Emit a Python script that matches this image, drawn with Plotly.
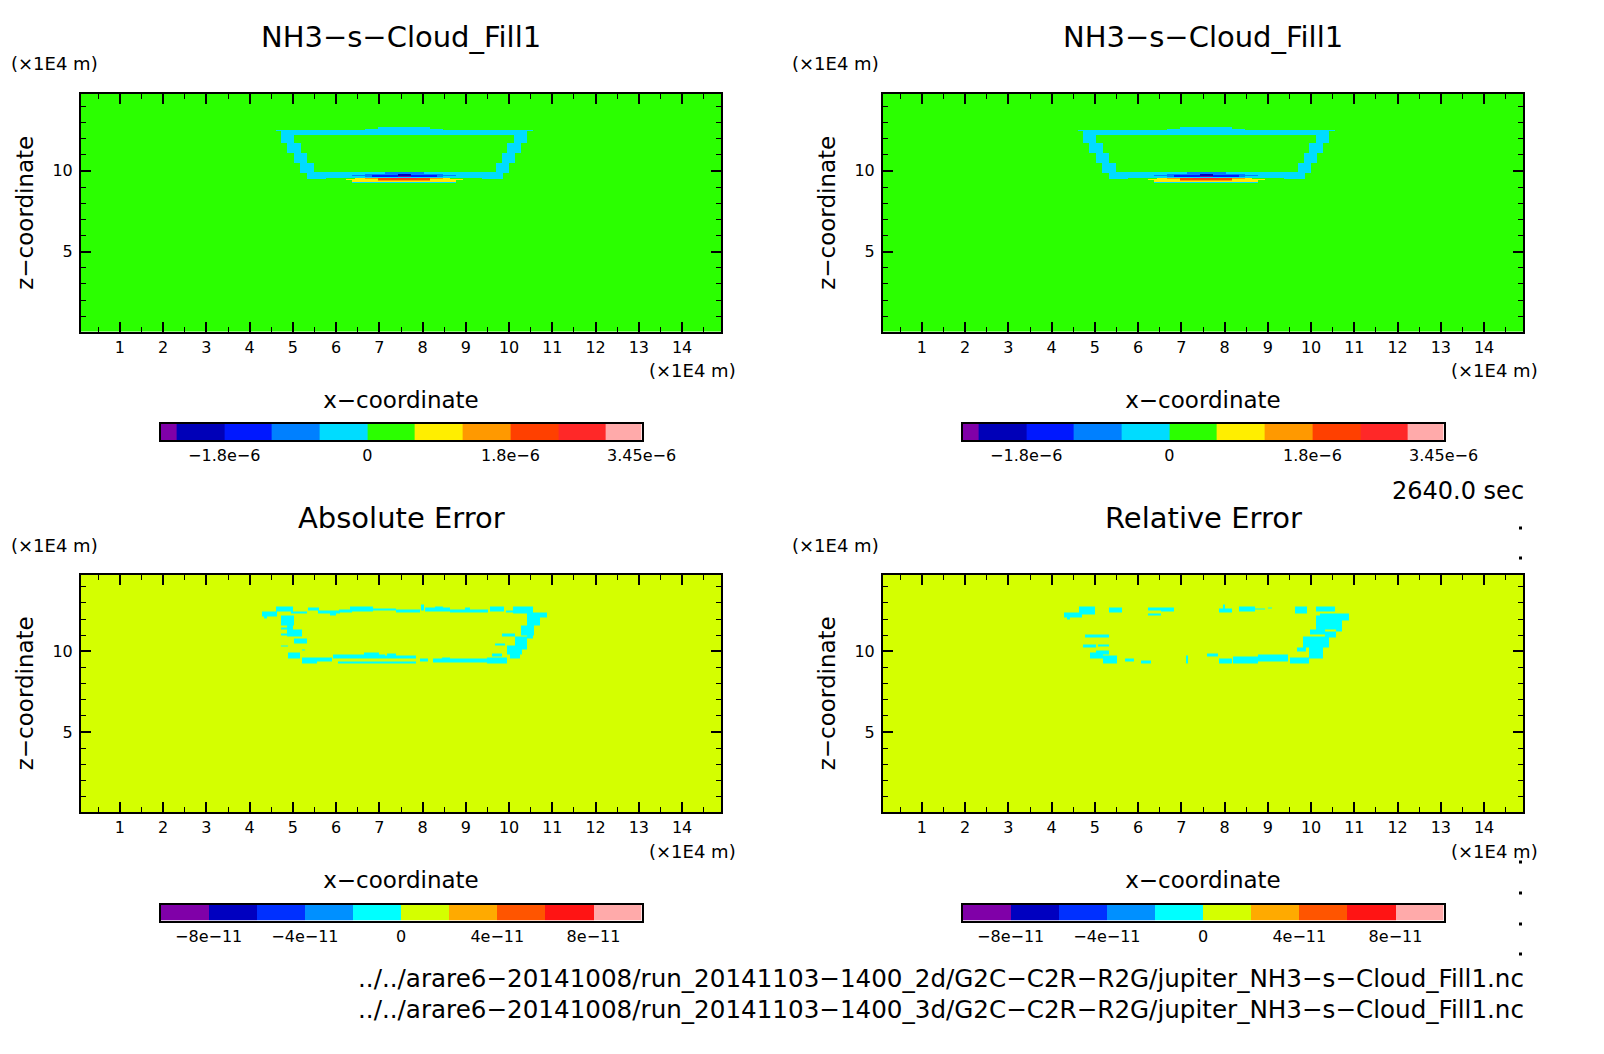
import numpy as np
import plotly.graph_objects as go

# colour levels and colours
levels_top = [-2.6e-6, -2.4e-6, -1.8e-6, -1.2e-6, -6e-7, 0, 6e-7, 1.2e-6, 1.8e-6, 2.4e-6, 3e-6, 3.45e-6]
colors_top = ["#8000a8", "#0000b8", "#0018ff", "#0080ff", "#00dcff", "#2bff00",
              "#ffee00", "#ff9900", "#ff4000", "#ff2828", "#ffaaaa"]
levels_err = [-1e-10, -8e-11, -6e-11, -4e-11, -2e-11, 0, 2e-11, 4e-11, 6e-11, 8e-11, 1e-10]
colors_err = ["#8000a8", "#0000c0", "#0030ff", "#0090ff", "#00ffff", "#d4ff00",
              "#ffaa00", "#ff5500", "#ff1414", "#ffaaaa"]
ticks_top = [-1.8e-6, 0, 1.8e-6, 3.45e-6]
ticks_top_text = ["−1.8e−6", "0", "1.8e−6", "3.45e−6"]
ticks_err = [-8e-11, -4e-11, 0, 4e-11, 8e-11]
ticks_err_text = ["−8e−11", "−4e−11", "0", "4e−11", "8e−11"]

x_range = [0.10, 14.90]
y_range = [0.05, 14.76]

# field patches: x0, x1, y0, y1 in units of 1E4 m
cloud_ring = [
    (4.58, 10.49, 12.47, 12.57), (4.70, 10.36, 12.24, 12.47), (6.63, 8.43, 12.57, 12.63),
    (6.93, 8.12, 12.57, 12.71), (4.70, 5.00, 11.75, 12.47), (4.84, 5.16, 11.13, 11.75),
    (5.00, 5.30, 10.52, 11.13), (5.13, 5.46, 9.90, 10.52), (5.29, 5.73, 9.55, 9.90),
    (5.46, 5.73, 9.90, 9.98), (5.73, 9.31, 9.61, 9.98), (9.31, 9.79, 9.55, 9.90),
    (9.31, 9.63, 9.90, 9.98), (9.63, 9.93, 9.90, 10.52), (9.77, 10.07, 10.52, 11.13),
    (9.90, 10.21, 11.13, 11.75), (10.05, 10.36, 11.75, 12.47),
    (6.33, 8.72, 9.27, 9.37),
]
# narrow layer inside the ring: x0, x1, y0, y1, value
cloud_streak = [
    (6.33, 8.72, 9.70, 9.78, -9e-7), (6.63, 8.43, 9.65, 9.86, -9e-7), (7.09, 7.98, 9.86, 9.94, -9e-7),
    (6.78, 8.27, 9.65, 9.78, -1.5e-6), (7.39, 7.68, 9.74, 9.86, -2.1e-6), (7.39, 7.68, 9.65, 9.74, -2.5e-6),
    (6.40, 8.58, 9.53, 9.61, 9e-7), (6.63, 8.43, 9.53, 9.61, 1.5e-6), (6.93, 8.12, 9.53, 9.61, 2.1e-6),
    (7.22, 7.82, 9.53, 9.61, 2.7e-6), (6.19, 8.87, 9.45, 9.53, 9e-7), (6.93, 8.12, 9.45, 9.53, 2.1e-6),
    (6.33, 8.72, 9.37, 9.45, 9e-7), (6.93, 8.12, 9.40, 9.45, 1.5e-6),
]
abs_err_cells = [
    (4.26, 4.60, 12.36, 12.69), (4.31, 4.38, 12.24, 12.36), (4.57, 4.97, 12.69, 12.97),
    (4.92, 5.30, 12.56, 12.69), (5.32, 5.58, 12.73, 12.93), (5.55, 6.05, 12.52, 12.73),
    (5.82, 5.95, 12.40, 12.52), (6.04, 6.32, 12.61, 12.81), (6.28, 6.82, 12.69, 12.97),
    (6.82, 7.35, 12.71, 12.85), (7.35, 7.89, 12.61, 12.81), (7.92, 7.98, 12.73, 13.10),
    (8.00, 8.58, 12.69, 12.89), (8.23, 8.43, 12.85, 12.97), (8.58, 9.46, 12.61, 12.81),
    (8.92, 9.04, 12.81, 12.93), (9.51, 9.82, 12.69, 12.97), (10.03, 10.49, 12.52, 12.97),
    (9.87, 10.03, 12.61, 12.73), (10.38, 10.80, 12.28, 12.60), (10.36, 10.65, 11.79, 12.52),
    (10.22, 10.51, 11.21, 11.79), (10.34, 10.49, 11.00, 11.21), (9.77, 10.07, 11.13, 11.29),
    (10.07, 10.36, 10.35, 11.13), (9.61, 9.84, 10.56, 10.72), (9.90, 10.23, 10.04, 10.56),
    (9.96, 10.20, 9.78, 10.04), (9.54, 9.77, 9.90, 10.11), (9.42, 9.90, 9.49, 9.82),
    (8.20, 9.42, 9.53, 9.78), (8.40, 8.58, 9.78, 9.86), (7.89, 8.07, 9.57, 9.78),
    (5.90, 7.09, 9.78, 10.02), (6.60, 6.95, 10.02, 10.15), (7.09, 7.81, 9.78, 9.98),
    (7.14, 7.35, 9.98, 10.11), (6.01, 7.81, 9.45, 9.57), (5.17, 5.52, 9.45, 9.82),
    (5.52, 5.86, 9.61, 9.82), (4.86, 5.13, 9.78, 10.15), (5.17, 5.25, 10.25, 10.35),
    (4.70, 4.86, 10.52, 10.60), (4.99, 5.29, 10.68, 11.00), (4.83, 5.17, 11.13, 11.54),
    (4.70, 4.99, 11.79, 12.40), (4.83, 4.98, 11.54, 11.79), (4.70, 4.83, 11.58, 11.66),
    (4.70, 4.84, 11.17, 11.29),
]
rel_err_cells = [
    (4.17, 4.58, 12.28, 12.60), (4.23, 4.31, 12.16, 12.28), (4.52, 4.88, 12.48, 12.97),
    (5.21, 5.49, 12.61, 12.93), (6.11, 6.41, 12.73, 12.89), (6.39, 6.70, 12.69, 12.93),
    (6.11, 6.39, 12.40, 12.56), (7.74, 8.02, 12.61, 12.85), (7.83, 7.88, 12.85, 13.10),
    (8.20, 8.56, 12.69, 12.97), (8.56, 8.79, 12.77, 12.87), (8.86, 8.94, 12.87, 12.93),
    (9.48, 9.76, 12.56, 12.97), (9.96, 10.40, 12.69, 12.97), (10.05, 10.72, 12.40, 12.56),
    (9.97, 10.72, 12.11, 12.40), (9.96, 10.55, 11.54, 12.11), (9.82, 10.16, 11.27, 11.54),
    (10.42, 10.55, 11.44, 11.54), (10.16, 10.42, 11.07, 11.44), (9.67, 10.26, 10.45, 11.11),
    (9.53, 9.74, 10.19, 10.45), (9.80, 10.13, 9.78, 10.45), (9.36, 9.80, 9.45, 9.82),
    (8.63, 9.32, 9.57, 10.02), (8.06, 8.63, 9.45, 9.90), (7.74, 8.02, 9.45, 9.78),
    (7.45, 7.71, 9.90, 10.11), (6.97, 7.02, 9.49, 9.98), (5.93, 6.16, 9.45, 9.63),
    (5.57, 5.78, 9.61, 9.78), (5.07, 5.39, 9.45, 9.98), (4.77, 5.07, 9.78, 10.15),
    (4.90, 5.21, 10.04, 10.25), (4.65, 5.21, 11.09, 11.27), (4.61, 4.90, 10.48, 10.66),
    (4.94, 5.21, 10.50, 10.62),
]

background_top = 3e-7
ring_top = -3e-7
background_err = 1e-11
patch_err = -1e-11

titles = ["NH3−s−Cloud_Fill1", "NH3−s−Cloud_Fill1", "Absolute Error", "Relative Error"]
file_lines = ["../../arare6−20141008/run_20141103−1400_2d/G2C−C2R−R2G/jupiter_NH3−s−Cloud_Fill1.nc",
              "../../arare6−20141008/run_20141103−1400_3d/G2C−C2R−R2G/jupiter_NH3−s−Cloud_Fill1.nc"]
time_label = "2640.0 sec"

W, H = 1604, 1054
FONT = "DejaVu Sans"


def stepped(levels, colors):
    # discrete colorscale, one flat band per level interval
    lo, hi = levels[0], levels[-1]
    scale = []
    for i, c in enumerate(colors):
        scale.append([(levels[i] - lo) / (hi - lo), c])
        scale.append([(levels[i + 1] - lo) / (hi - lo), c])
    return scale


def recalibrate(patches, shift_x, shift_y):
    # the tables were read with a slightly different frame size, this puts them on the axes
    out = []
    for p in patches:
        xy = [round(0.08 + 1.0062 * (v - 0.08) + shift_x, 3) for v in p[:2]]
        xy += [round(14.9 - 1.006 * (14.9 - v) + shift_y, 3) for v in p[2:4]]
        out.append(tuple(xy) + p[4:])
    return out


def patch_field(background, patches):
    # patches are painted in order onto a grid whose edges are the patch edges
    xs = sorted({x_range[0], x_range[1]} | {v for p in patches for v in p[:2]})
    ys = sorted({y_range[0], y_range[1]} | {v for p in patches for v in p[2:4]})
    z = np.full((len(ys) - 1, len(xs) - 1), background)
    for p in patches:
        i0, i1 = xs.index(p[0]), xs.index(p[1])
        j0, j1 = ys.index(p[2]), ys.index(p[3])
        z[j0:j1, i0:i1] = p[4]
    return xs, ys, z


def hdom(a, b):
    return [a / W, b / W]


def vdom(top, bottom):
    return [1 - bottom / H, 1 - top / H]


cloud = recalibrate([p + (ring_top,) for p in cloud_ring] + cloud_streak, 0, 0)
abs_err = recalibrate([p + (patch_err,) for p in abs_err_cells], 0, -0.186)
rel_err = recalibrate([p + (patch_err,) for p in rel_err_cells], 0.092, -0.186)
fields = [(background_top, cloud), (background_top, cloud), (background_err, abs_err), (background_err, rel_err)]

frame_left = [81, 883]
frame_w = 640
frame_top = [94, 574.5]
frame_h = 237.5
bar_left_off = 79.6
bar_w = 481
bar_top = [424, 904.5]
bar_h = 16
title_y = [37, 517.6]
unit_top_y = [64, 545]
unit_bottom_y = [370.5, 851.5]
unit_left_cx = [54, 836]

fig = go.Figure()
layout = {}
annotations = []
for n in range(4):
    col, row = n % 2, n // 2
    left, top = frame_left[col], frame_top[row]
    levels, colors = (levels_top, colors_top) if row == 0 else (levels_err, colors_err)
    scale = stepped(levels, colors)
    xs, ys, z = patch_field(*fields[n])
    ax = 2 * n + 1
    fig.add_trace(go.Heatmap(x=xs, y=ys, z=z, colorscale=scale, zmin=levels[0], zmax=levels[-1],
                             showscale=False, zsmooth=False, xaxis=f"x{ax}", yaxis=f"y{ax}"))
    layout[f"xaxis{ax}"] = dict(
        domain=hdom(left, left + frame_w), anchor=f"y{ax}", range=x_range, dtick=1, tick0=0,
        automargin=False,
        ticks="inside", ticklen=10, tickwidth=2, tickcolor="black", mirror="ticks", showline=True,
        linecolor="black", linewidth=2, showgrid=False, zeroline=False,
        minor=dict(dtick=0.5, tick0=0, ticks="inside", ticklen=5, tickwidth=1, tickcolor="black", showgrid=False),
        tickfont=dict(family=FONT, size=16, color="black"),
        title=dict(text="x−coordinate", standoff=36, font=dict(family=FONT, size=23, color="black")),
    )
    layout[f"yaxis{ax}"] = dict(
        domain=vdom(top, top + frame_h), anchor=f"x{ax}", range=y_range, dtick=5, tick0=0,
        automargin=False,
        ticks="inside", ticklen=10, tickwidth=2, tickcolor="black", mirror="ticks", showline=True,
        linecolor="black", linewidth=2, showgrid=False, zeroline=False, ticklabelstandoff=3,
        minor=dict(dtick=1, tick0=0, ticks="inside", ticklen=5, tickwidth=1, tickcolor="black", showgrid=False),
        tickfont=dict(family=FONT, size=16, color="black"),
        title=dict(text="z−coordinate", standoff=12, font=dict(family=FONT, size=23, color="black")),
    )

    # colour bar drawn as its own small heatmap on the level scale
    mids = [[(levels[i] + levels[i + 1]) / 2 for i in range(len(colors))]]
    bx = 2 * n + 2
    fig.add_trace(go.Heatmap(x=levels, y=[0, 1], z=mids, colorscale=scale, zmin=levels[0], zmax=levels[-1],
                             showscale=False, zsmooth=False, xaxis=f"x{bx}", yaxis=f"y{bx}"))
    layout[f"xaxis{bx}"] = dict(
        domain=hdom(left + bar_left_off, left + bar_left_off + bar_w), anchor=f"y{bx}",
        range=[levels[0], levels[-1]], tickmode="array", automargin=False,
        tickvals=ticks_top if row == 0 else ticks_err,
        ticktext=ticks_top_text if row == 0 else ticks_err_text,
        ticks="", showline=True, mirror=True, linecolor="black", linewidth=2,
        showgrid=False, zeroline=False, tickfont=dict(family=FONT, size=16, color="black"),
    )
    layout[f"yaxis{bx}"] = dict(
        domain=vdom(bar_top[row], bar_top[row] + bar_h), anchor=f"x{bx}", range=[0, 1],
        automargin=False,
        showticklabels=False, ticks="", showline=True, mirror=True, linecolor="black", linewidth=2,
        showgrid=False, zeroline=False,
    )

    # title and the two unit labels sit at fixed places around each frame
    annotations.append(dict(x=(left + frame_w / 2) / W, y=1 - title_y[row] / H, text=titles[n],
                            font=dict(family=FONT, size=29, color="black")))
    annotations.append(dict(x=unit_left_cx[col] / W, y=1 - unit_top_y[row] / H, text="(×1E4 m)",
                            font=dict(family=FONT, size=18, color="black")))
    annotations.append(dict(x=(left + frame_w - 29) / W, y=1 - unit_bottom_y[row] / H, text="(×1E4 m)",
                            font=dict(family=FONT, size=18, color="black")))

annotations.append(dict(x=1526 / W, y=1 - 491 / H, text=time_label, xanchor="right",
                        font=dict(family=FONT, size=24, color="black")))
for line, py in zip(file_lines, [978, 1009]):
    annotations.append(dict(x=1526 / W, y=1 - py / H, text=line, xanchor="right",
                            font=dict(family=FONT, size=24.6, color="black")))
for a in annotations:
    a.update(xref="paper", yref="paper", showarrow=False)
    a.setdefault("xanchor", "center")
    a["yanchor"] = "middle"

# stray dots at the right edge of the page
shapes = [dict(type="rect", xref="paper", yref="paper", x0=1519 / W, x1=1522 / W,
               y0=1 - (py + 1.5) / H, y1=1 - (py - 1.5) / H,
               fillcolor="black", line_width=0)
          for py in [528, 558, 862, 893, 924, 954]]

fig.update_layout(width=W, height=H, margin=dict(l=0, r=0, t=0, b=0), autosize=False,
                  paper_bgcolor="white", plot_bgcolor="white", showlegend=False,
                  annotations=annotations, shapes=shapes, **layout)
# the page's default body margin would push the figure off the window
fig.write_html("out.html", config={"displayModeBar": False}, post_script="document.body.style.margin='0';")
